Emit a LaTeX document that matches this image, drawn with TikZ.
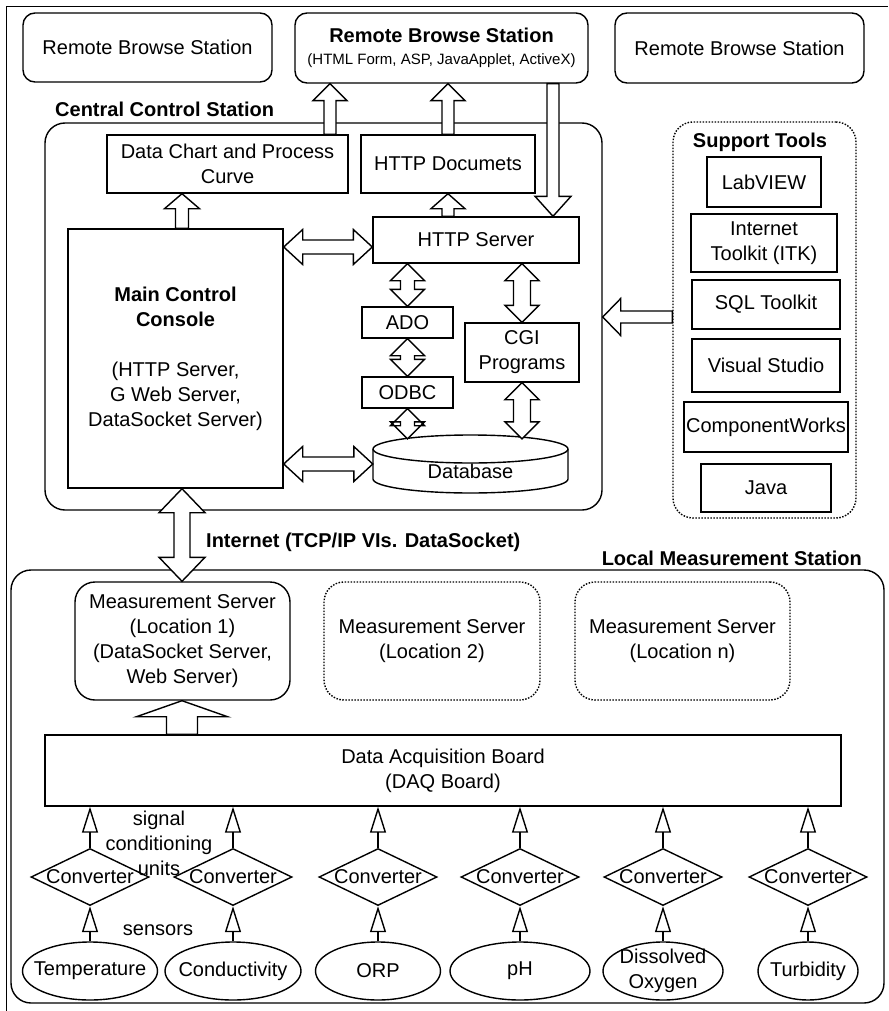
\documentclass[tikz,border=0pt]{standalone}
\usepackage{fontspec}
\setmainfont{Liberation Sans}
\usetikzlibrary{calc,shapes.geometric,arrows.meta}

\tikzset{
  lw/.style={line width=1.4pt},
  dotline/.style={dash pattern=on 1.5pt off 1.5pt},
  box/.style={draw, lw, rectangle, inner sep=0pt, align=center},
  rbox/.style={box, rounded corners=12pt},
  group/.style={draw, lw, rectangle, rounded corners=20pt, inner sep=0pt},
  blk/.style={draw, lw, fill=white, line join=miter},
  conv/.style={draw, lw, diamond, inner sep=0pt, minimum width=118pt, minimum height=57pt},
  sensor/.style={draw, lw, ellipse, inner sep=0pt, minimum width=#1pt, minimum height=58pt},
  tri/.style={lw, -{Triangle[open, length=26pt, width=16pt]}},
}

% hollow block arrow: tail, tip, shaft half width, head half width, head length
\newcommand{\hollowarrow}[5]{%
  \coordinate (ha-t) at (#1);
  \coordinate (ha-h) at (#2);
  \coordinate (ha-c) at ($(ha-h)!#5!(ha-t)$);
  \draw[blk] ($(ha-t)!#3!90:(ha-h)$) -- ($(ha-c)!#3!90:(ha-h)$) -- ($(ha-c)!#4!90:(ha-h)$)
    -- (ha-h) -- ($(ha-c)!#4!-90:(ha-h)$) -- ($(ha-c)!#3!-90:(ha-h)$) -- ($(ha-t)!#3!-90:(ha-h)$) -- cycle;
}
% hollow double-headed block arrow: end a, end b, shaft half width, head half width, head length
\newcommand{\hollowdbl}[5]{%
  \coordinate (da-a) at (#1);
  \coordinate (da-b) at (#2);
  \coordinate (da-ca) at ($(da-a)!#5!(da-b)$);
  \coordinate (da-cb) at ($(da-b)!#5!(da-a)$);
  \draw[blk] (da-a) -- ($(da-ca)!#4!90:(da-b)$) -- ($(da-ca)!#3!90:(da-b)$)
    -- ($(da-cb)!#3!-90:(da-a)$) -- ($(da-cb)!#4!-90:(da-a)$) -- (da-b)
    -- ($(da-cb)!#4!90:(da-a)$) -- ($(da-cb)!#3!90:(da-a)$)
    -- ($(da-ca)!#3!-90:(da-b)$) -- ($(da-ca)!#4!-90:(da-b)$) -- cycle;
}

\begin{document}
\begin{tikzpicture}[x=1pt, y=-1pt, font=\fontsize{20}{25}\selectfont, inner sep=0pt]
\useasboundingbox (0,0) rectangle (888,1011);

% outer frame
\draw[lw] (6.5,1011) -- (6.5,6.5) -- (888,6.5);

% remote browse stations
\node[rbox, minimum width=249pt, minimum height=69pt] (rbs1) at (147.5,47.5) {Remote Browse Station};
\node[rbox, minimum width=293pt, minimum height=70pt] (rbs2) at (441.5,48)
  {\textbf{Remote Browse Station}\\[-3pt]{\fontsize{15}{18}\selectfont(HTML Form, ASP, JavaApplet, ActiveX)}};
\node[rbox, minimum width=249pt, minimum height=70pt] (rbs3) at (739.5,48) {Remote Browse Station};

% central control station
\node[group, minimum width=557pt, minimum height=387pt] (ccs) at (323.5,316.5) {};
\node[anchor=base west] (ccsl) at (55,117) {\textbf{Central Control Station}};

\node[box, minimum width=241pt, minimum height=58pt] (dc) at (227.5,164) {Data Chart and Process\\Curve};
\node[box, minimum width=174pt, minimum height=58pt] (hd) at (448,164) {HTTP Documets};
\node[box, minimum width=215pt, minimum height=259pt] (mcc) at (175.5,358.5)
  {\textbf{Main Control}\\\textbf{Console}\\[25pt](HTTP Server,\\G Web Server,\\DataSocket Server)};
\node[box, minimum width=206pt, minimum height=46pt] (hs) at (476,240) {HTTP Server};
\node[box, minimum width=91pt, minimum height=31pt] (ado) at (407.5,322.5) {ADO};
\node[box, minimum width=91pt, minimum height=31pt] (odbc) at (407.5,392.5) {ODBC};
\node[box, minimum width=114pt, minimum height=59pt] (cgi) at (522,352.5) {CGI\\Programs};

% database cylinder
\node[minimum width=195pt, minimum height=58pt] (db) at (470.5,464) {};
\draw[lw, fill=white] (373,449) -- (373,479)
  arc[start angle=180, end angle=360, x radius=97.5pt, y radius=14pt] -- (568,449)
  arc[start angle=0, end angle=180, x radius=97.5pt, y radius=14pt] -- cycle;
\draw[lw] (373,449) arc[start angle=180, end angle=360, x radius=97.5pt, y radius=14pt];
\node (dbl) at (470.5,471) {Database};

% support tools
\node[group, dotline, minimum width=183pt, minimum height=396pt] (st) at (764.5,320) {};
\node[anchor=base] (stl) at (760,148) {\textbf{Support Tools}};
\node[box, minimum width=114pt, minimum height=50pt] (lv) at (764,182) {LabVIEW};
\node[box, minimum width=146pt, minimum height=58pt] (itk) at (764,243) {Internet\\Toolkit (ITK)};
\node[box, minimum width=148pt, minimum height=49pt] (sql) at (766,304.5) {SQL Toolkit};
\node[box, minimum width=148pt, minimum height=53pt] (vs) at (766,365.5) {Visual Studio};
\node[box, minimum width=164pt, minimum height=50pt] (cw) at (766,427) {ComponentWorks};
\node[box, minimum width=130pt, minimum height=48pt] (java) at (766,488) {Java};

% local measurement station
\node[group, minimum width=873pt, minimum height=433pt] (lms) at (447.5,786.5) {};
\node[anchor=base east] (lmsl) at (862,565) {\textbf{Local Measurement Station}};
\node[anchor=base west] (inet) at (206,547) {\textbf{Internet (TCP/IP VIs. DataSocket)}};
\node[box, rounded corners=20pt, minimum width=215pt, minimum height=118pt] (ms1) at (182.5,641)
  {Measurement Server\\(Location 1)\\(DataSocket Server,\\Web Server)};
\node[box, dotline, rounded corners=20pt, minimum width=216pt, minimum height=118pt] (ms2) at (432,641)
  {Measurement Server\\(Location 2)};
\node[box, dotline, rounded corners=20pt, minimum width=215pt, minimum height=118pt] (msn) at (682.5,641)
  {Measurement Server\\(Location n)};
\node[box, minimum width=796pt, minimum height=71pt] (daq) at (443,770.5) {Data Acquisition Board\\(DAQ Board)};

% converters and sensors
\foreach \i/\x/\w/\name in {1/90/135/Temperature, 2/233/136/Conductivity, 3/378/125/ORP,
    4/520/140/pH, 5/663/120/{Dissolved\\Oxygen}, 6/808/100/Turbidity} {
  \node[conv, label={center:Converter}] (cv\i) at (\x,877) {};
  \node[sensor=\w, label={[align=center]center:\name}] (sn\i) at (\x,971) {};
  \draw[tri] (cv\i.north) -- (cv\i.north |- daq.south);
  \draw[tri] (sn\i.north) -- (cv\i.south);
}
\node[align=center] (scu) at (159,843) {signal\\conditioning\\units};
\node[anchor=base] (sens) at (158,935) {sensors};

% block arrows
\hollowarrow{330,0 |- dc.north}{330,0 |- rbs2.south}{6pt}{17pt}{17pt}
\hollowarrow{448,0 |- hd.north}{448,0 |- rbs2.south}{6pt}{17pt}{17pt}
\hollowarrow{553,0 |- rbs2.south}{553,0 |- hs.north}{6pt}{18pt}{20pt}
\hollowarrow{182,0 |- mcc.north}{182,0 |- dc.south}{6.5pt}{17.5pt}{15pt}
\hollowarrow{448,0 |- hs.north}{448,0 |- hd.south}{6pt}{17pt}{15pt}
\hollowdbl{mcc.east |- 0,247}{hs.west |- 0,247}{7pt}{17.5pt}{19pt}
\hollowdbl{mcc.east |- 0,464}{db.west |- 0,464}{7pt}{17.5pt}{19pt}
\hollowdbl{ado.north |- hs.south}{ado.north}{7pt}{17pt}{17pt}
\hollowdbl{ado.south}{odbc.north}{7pt}{17pt}{17pt}
\hollowdbl{odbc.south}{$(odbc.south |- db.north)+(0,4)$}{7pt}{17pt}{17pt}
\hollowdbl{cgi.north |- hs.south}{cgi.north}{8.5pt}{17pt}{17pt}
\hollowdbl{cgi.south}{$(cgi.south |- db.north)+(0,4)$}{8.5pt}{17pt}{17pt}
\hollowarrow{st.west |- 0,317}{ccs.east |- 0,317}{6pt}{18.5pt}{18pt}
\hollowdbl{182,0 |- mcc.south}{182,0 |- ms1.north}{8pt}{23pt}{24pt}
\hollowarrow{182,0 |- daq.north}{182,0 |- ms1.south}{15.5pt}{45.5pt}{16pt}
\end{tikzpicture}
\end{document}
